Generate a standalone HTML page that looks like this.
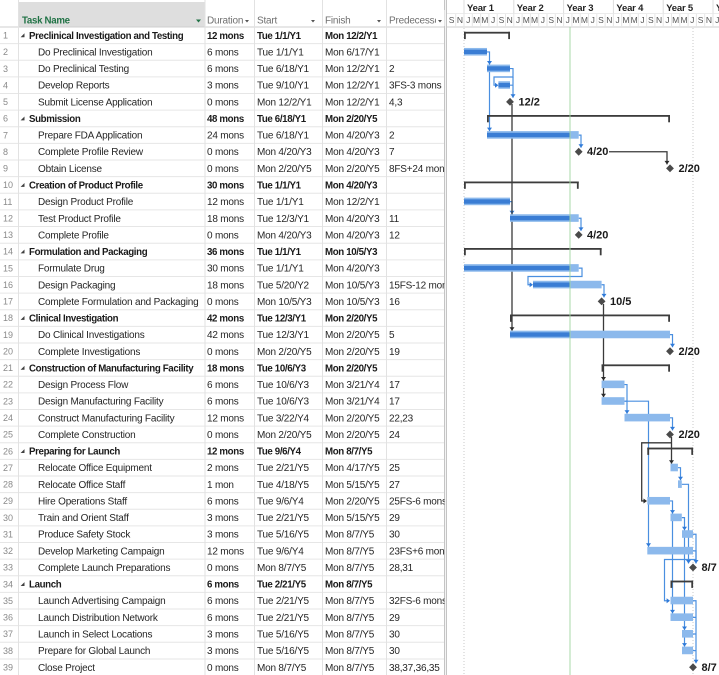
<!DOCTYPE html>
<html><head><meta charset="utf-8"><style>
html,body{margin:0;padding:0;background:#fff;}
svg{display:block;}
.n{font:9px "Liberation Sans",sans-serif;fill:#8a8a8a;}
.t{font:10px "Liberation Sans",sans-serif;fill:#262626;letter-spacing:-0.2px;}
.b{font:bold 9.7px "Liberation Sans",sans-serif;fill:#1a1a1a;letter-spacing:-0.35px;}
.h{font:10px "Liberation Sans",sans-serif;fill:#707070;letter-spacing:-0.2px;}
.hg{font:bold 9.7px "Liberation Sans",sans-serif;fill:#217346;letter-spacing:-0.3px;}
.yr{font:bold 9.5px "Liberation Sans",sans-serif;fill:#222;letter-spacing:-0.2px;}
.mo{font:8.5px "Liberation Sans",sans-serif;fill:#555;text-anchor:middle;}
.ml{font:bold 11px "Liberation Sans",sans-serif;fill:#1a1a1a;}
</style></head><body>
<svg width="719" height="675" viewBox="0 0 719 675" xmlns="http://www.w3.org/2000/svg">
<defs>
<clipPath id="ctask"><rect x="18" y="0" width="186.5" height="675"/></clipPath>
<clipPath id="cpred"><rect x="386" y="0" width="58.5" height="675"/></clipPath>
<clipPath id="cgantt"><rect x="447" y="0" width="272" height="675"/></clipPath>
</defs>
<rect x="0" y="0" width="719" height="675" fill="#fff"/>
<!-- table header -->
<rect x="18" y="2" width="187" height="25" fill="#dedede"/>
<path d="M0,27H445" stroke="#cfcfcf" stroke-width="1"/>
<!-- row lines -->
<path d="M0,43.63H445M0,60.26H445M0,76.89H445M0,93.52H445M0,110.15H445M0,126.78H445M0,143.41H445M0,160.04H445M0,176.67H445M0,193.3H445M0,209.93H445M0,226.56H445M0,243.19H445M0,259.82H445M0,276.45H445M0,293.08H445M0,309.71H445M0,326.34H445M0,342.97H445M0,359.6H445M0,376.23H445M0,392.86H445M0,409.49H445M0,426.12H445M0,442.75H445M0,459.38H445M0,476.01H445M0,492.64H445M0,509.27H445M0,525.9H445M0,542.53H445M0,559.16H445M0,575.79H445M0,592.42H445M0,609.05H445M0,625.68H445M0,642.31H445M0,658.94H445" stroke="#e6e6e6" stroke-width="1"/>
<!-- column lines -->
<path d="M18.5,0V675M205,0V675M254.5,0V675M322.5,0V675M386.5,0V675" stroke="#e2e2e2" stroke-width="1"/>
<rect x="444" y="0" width="3" height="675" fill="#f4f4f4"/>
<path d="M444.5,0V675M446.5,0V675" stroke="#c4c4c4" stroke-width="1"/>

<!-- header text -->
<text class="hg" x="22" y="23.3">Task Name</text>
<polygon points="196,19.5 201,19.5 198.5,22.5" fill="#217346"/>
<text class="h" x="207" y="23.3">Duration</text>
<polygon points="245,20 249,20 247,22.5" fill="#555"/>
<text class="h" x="257" y="23.3">Start</text>
<polygon points="311,20 315,20 313,22.5" fill="#555"/>
<text class="h" x="325" y="23.3">Finish</text>
<polygon points="377,20 381,20 379,22.5" fill="#555"/>
<g clip-path="url(#cpred)"><text class="h" x="389" y="23.3">Predecessors</text><rect x="436" y="10" width="10" height="16" fill="#fff"/></g>
<polygon points="438,20 442,20 440,22.5" fill="#555"/>

<!-- row numbers -->
<g class="n">
<text x="3" y="38.5">1</text><text x="3" y="55.1">2</text><text x="3" y="71.8">3</text><text x="3" y="88.4">4</text><text x="3" y="105">5</text><text x="3" y="121.6">6</text><text x="3" y="138.3">7</text><text x="3" y="154.9">8</text><text x="3" y="171.5">9</text><text x="3" y="188.2">10</text><text x="3" y="204.8">11</text><text x="3" y="221.4">12</text><text x="3" y="238.1">13</text><text x="3" y="254.7">14</text><text x="3" y="271.3">15</text><text x="3" y="288">16</text><text x="3" y="304.6">17</text><text x="3" y="321.2">18</text><text x="3" y="337.9">19</text><text x="3" y="354.5">20</text><text x="3" y="371.1">21</text><text x="3" y="387.7">22</text><text x="3" y="404.4">23</text><text x="3" y="421">24</text><text x="3" y="437.6">25</text><text x="3" y="454.3">26</text><text x="3" y="470.9">27</text><text x="3" y="487.5">28</text><text x="3" y="504.2">29</text><text x="3" y="520.8">30</text><text x="3" y="537.4">31</text><text x="3" y="554">32</text><text x="3" y="570.7">33</text><text x="3" y="587.3">34</text><text x="3" y="603.9">35</text><text x="3" y="620.6">36</text><text x="3" y="637.2">37</text><text x="3" y="653.8">38</text><text x="3" y="670.5">39</text>
</g>

<!-- summary triangles -->
<g fill="#404040">
<polygon points="24.5,33.3 24.5,37.2 20.6,37.2"/>
<polygon points="24.5,116.5 24.5,120.4 20.6,120.4"/>
<polygon points="24.5,183 24.5,186.9 20.6,186.9"/>
<polygon points="24.5,249.5 24.5,253.4 20.6,253.4"/>
<polygon points="24.5,316 24.5,319.9 20.6,319.9"/>
<polygon points="24.5,365.9 24.5,369.8 20.6,369.8"/>
<polygon points="24.5,449.1 24.5,453 20.6,453"/>
<polygon points="24.5,582.1 24.5,586 20.6,586"/>
</g>

<!-- task names -->
<g clip-path="url(#ctask)">
<text class="b" x="29" y="38.82">Preclinical Investigation and Testing</text>
<text class="t" x="38" y="55.45">Do Preclinical Investigation</text>
<text class="t" x="38" y="72.08">Do Preclinical Testing</text>
<text class="t" x="38" y="88.71">Develop Reports</text>
<text class="t" x="38" y="105.34">Submit License Application</text>
<text class="b" x="29" y="121.97">Submission</text>
<text class="t" x="38" y="138.6">Prepare FDA Application</text>
<text class="t" x="38" y="155.23">Complete Profile Review</text>
<text class="t" x="38" y="171.86">Obtain License</text>
<text class="b" x="29" y="188.49">Creation of Product Profile</text>
<text class="t" x="38" y="205.12">Design Product Profile</text>
<text class="t" x="38" y="221.75">Test Product Profile</text>
<text class="t" x="38" y="238.38">Complete Profile</text>
<text class="b" x="29" y="255.01">Formulation and Packaging</text>
<text class="t" x="38" y="271.64">Formulate Drug</text>
<text class="t" x="38" y="288.27">Design Packaging</text>
<text class="t" x="38" y="304.9">Complete Formulation and Packaging</text>
<text class="b" x="29" y="321.53">Clinical Investigation</text>
<text class="t" x="38" y="338.16">Do Clinical Investigations</text>
<text class="t" x="38" y="354.79">Complete Investigations</text>
<text class="b" x="29" y="371.42">Construction of Manufacturing Facility</text>
<text class="t" x="38" y="388.05">Design Process Flow</text>
<text class="t" x="38" y="404.68">Design Manufacturing Facility</text>
<text class="t" x="38" y="421.31">Construct Manufacturing Facility</text>
<text class="t" x="38" y="437.94">Complete Construction</text>
<text class="b" x="29" y="454.57">Preparing for Launch</text>
<text class="t" x="38" y="471.2">Relocate Office Equipment</text>
<text class="t" x="38" y="487.83">Relocate Office Staff</text>
<text class="t" x="38" y="504.46">Hire Operations Staff</text>
<text class="t" x="38" y="521.09">Train and Orient Staff</text>
<text class="t" x="38" y="537.72">Produce Safety Stock</text>
<text class="t" x="38" y="554.35">Develop Marketing Campaign</text>
<text class="t" x="38" y="570.98">Complete Launch Preparations</text>
<text class="b" x="29" y="587.61">Launch</text>
<text class="t" x="38" y="604.24">Launch Advertising Campaign</text>
<text class="t" x="38" y="620.87">Launch Distribution Network</text>
<text class="t" x="38" y="637.5">Launch in Select Locations</text>
<text class="t" x="38" y="654.13">Prepare for Global Launch</text>
<text class="t" x="38" y="670.76">Close Project</text>
</g>

<!-- duration -->
<g>
<text class="b" x="207" y="38.82">12 mons</text>
<text class="t" x="207" y="55.45">6 mons</text>
<text class="t" x="207" y="72.08">6 mons</text>
<text class="t" x="207" y="88.71">3 mons</text>
<text class="t" x="207" y="105.34">0 mons</text>
<text class="b" x="207" y="121.97">48 mons</text>
<text class="t" x="207" y="138.6">24 mons</text>
<text class="t" x="207" y="155.23">0 mons</text>
<text class="t" x="207" y="171.86">0 mons</text>
<text class="b" x="207" y="188.49">30 mons</text>
<text class="t" x="207" y="205.12">12 mons</text>
<text class="t" x="207" y="221.75">18 mons</text>
<text class="t" x="207" y="238.38">0 mons</text>
<text class="b" x="207" y="255.01">36 mons</text>
<text class="t" x="207" y="271.64">30 mons</text>
<text class="t" x="207" y="288.27">18 mons</text>
<text class="t" x="207" y="304.9">0 mons</text>
<text class="b" x="207" y="321.53">42 mons</text>
<text class="t" x="207" y="338.16">42 mons</text>
<text class="t" x="207" y="354.79">0 mons</text>
<text class="b" x="207" y="371.42">18 mons</text>
<text class="t" x="207" y="388.05">6 mons</text>
<text class="t" x="207" y="404.68">6 mons</text>
<text class="t" x="207" y="421.31">12 mons</text>
<text class="t" x="207" y="437.94">0 mons</text>
<text class="b" x="207" y="454.57">12 mons</text>
<text class="t" x="207" y="471.2">2 mons</text>
<text class="t" x="207" y="487.83">1 mon</text>
<text class="t" x="207" y="504.46">6 mons</text>
<text class="t" x="207" y="521.09">3 mons</text>
<text class="t" x="207" y="537.72">3 mons</text>
<text class="t" x="207" y="554.35">12 mons</text>
<text class="t" x="207" y="570.98">0 mons</text>
<text class="b" x="207" y="587.61">6 mons</text>
<text class="t" x="207" y="604.24">6 mons</text>
<text class="t" x="207" y="620.87">6 mons</text>
<text class="t" x="207" y="637.5">3 mons</text>
<text class="t" x="207" y="654.13">3 mons</text>
<text class="t" x="207" y="670.76">0 mons</text>
</g>

<!-- start -->
<g>
<text class="b" x="257" y="38.82">Tue 1/1/Y1</text>
<text class="t" x="257" y="55.45">Tue 1/1/Y1</text>
<text class="t" x="257" y="72.08">Tue 6/18/Y1</text>
<text class="t" x="257" y="88.71">Tue 9/10/Y1</text>
<text class="t" x="257" y="105.34">Mon 12/2/Y1</text>
<text class="b" x="257" y="121.97">Tue 6/18/Y1</text>
<text class="t" x="257" y="138.6">Tue 6/18/Y1</text>
<text class="t" x="257" y="155.23">Mon 4/20/Y3</text>
<text class="t" x="257" y="171.86">Mon 2/20/Y5</text>
<text class="b" x="257" y="188.49">Tue 1/1/Y1</text>
<text class="t" x="257" y="205.12">Tue 1/1/Y1</text>
<text class="t" x="257" y="221.75">Tue 12/3/Y1</text>
<text class="t" x="257" y="238.38">Mon 4/20/Y3</text>
<text class="b" x="257" y="255.01">Tue 1/1/Y1</text>
<text class="t" x="257" y="271.64">Tue 1/1/Y1</text>
<text class="t" x="257" y="288.27">Tue 5/20/Y2</text>
<text class="t" x="257" y="304.9">Mon 10/5/Y3</text>
<text class="b" x="257" y="321.53">Tue 12/3/Y1</text>
<text class="t" x="257" y="338.16">Tue 12/3/Y1</text>
<text class="t" x="257" y="354.79">Mon 2/20/Y5</text>
<text class="b" x="257" y="371.42">Tue 10/6/Y3</text>
<text class="t" x="257" y="388.05">Tue 10/6/Y3</text>
<text class="t" x="257" y="404.68">Tue 10/6/Y3</text>
<text class="t" x="257" y="421.31">Tue 3/22/Y4</text>
<text class="t" x="257" y="437.94">Mon 2/20/Y5</text>
<text class="b" x="257" y="454.57">Tue 9/6/Y4</text>
<text class="t" x="257" y="471.2">Tue 2/21/Y5</text>
<text class="t" x="257" y="487.83">Tue 4/18/Y5</text>
<text class="t" x="257" y="504.46">Tue 9/6/Y4</text>
<text class="t" x="257" y="521.09">Tue 2/21/Y5</text>
<text class="t" x="257" y="537.72">Tue 5/16/Y5</text>
<text class="t" x="257" y="554.35">Tue 9/6/Y4</text>
<text class="t" x="257" y="570.98">Mon 8/7/Y5</text>
<text class="b" x="257" y="587.61">Tue 2/21/Y5</text>
<text class="t" x="257" y="604.24">Tue 2/21/Y5</text>
<text class="t" x="257" y="620.87">Tue 2/21/Y5</text>
<text class="t" x="257" y="637.5">Tue 5/16/Y5</text>
<text class="t" x="257" y="654.13">Tue 5/16/Y5</text>
<text class="t" x="257" y="670.76">Mon 8/7/Y5</text>
</g>

<!-- finish -->
<g>
<text class="b" x="325" y="38.82">Mon 12/2/Y1</text>
<text class="t" x="325" y="55.45">Mon 6/17/Y1</text>
<text class="t" x="325" y="72.08">Mon 12/2/Y1</text>
<text class="t" x="325" y="88.71">Mon 12/2/Y1</text>
<text class="t" x="325" y="105.34">Mon 12/2/Y1</text>
<text class="b" x="325" y="121.97">Mon 2/20/Y5</text>
<text class="t" x="325" y="138.6">Mon 4/20/Y3</text>
<text class="t" x="325" y="155.23">Mon 4/20/Y3</text>
<text class="t" x="325" y="171.86">Mon 2/20/Y5</text>
<text class="b" x="325" y="188.49">Mon 4/20/Y3</text>
<text class="t" x="325" y="205.12">Mon 12/2/Y1</text>
<text class="t" x="325" y="221.75">Mon 4/20/Y3</text>
<text class="t" x="325" y="238.38">Mon 4/20/Y3</text>
<text class="b" x="325" y="255.01">Mon 10/5/Y3</text>
<text class="t" x="325" y="271.64">Mon 4/20/Y3</text>
<text class="t" x="325" y="288.27">Mon 10/5/Y3</text>
<text class="t" x="325" y="304.9">Mon 10/5/Y3</text>
<text class="b" x="325" y="321.53">Mon 2/20/Y5</text>
<text class="t" x="325" y="338.16">Mon 2/20/Y5</text>
<text class="t" x="325" y="354.79">Mon 2/20/Y5</text>
<text class="b" x="325" y="371.42">Mon 2/20/Y5</text>
<text class="t" x="325" y="388.05">Mon 3/21/Y4</text>
<text class="t" x="325" y="404.68">Mon 3/21/Y4</text>
<text class="t" x="325" y="421.31">Mon 2/20/Y5</text>
<text class="t" x="325" y="437.94">Mon 2/20/Y5</text>
<text class="b" x="325" y="454.57">Mon 8/7/Y5</text>
<text class="t" x="325" y="471.2">Mon 4/17/Y5</text>
<text class="t" x="325" y="487.83">Mon 5/15/Y5</text>
<text class="t" x="325" y="504.46">Mon 2/20/Y5</text>
<text class="t" x="325" y="521.09">Mon 5/15/Y5</text>
<text class="t" x="325" y="537.72">Mon 8/7/Y5</text>
<text class="t" x="325" y="554.35">Mon 8/7/Y5</text>
<text class="t" x="325" y="570.98">Mon 8/7/Y5</text>
<text class="b" x="325" y="587.61">Mon 8/7/Y5</text>
<text class="t" x="325" y="604.24">Mon 8/7/Y5</text>
<text class="t" x="325" y="620.87">Mon 8/7/Y5</text>
<text class="t" x="325" y="637.5">Mon 8/7/Y5</text>
<text class="t" x="325" y="654.13">Mon 8/7/Y5</text>
<text class="t" x="325" y="670.76">Mon 8/7/Y5</text>
</g>

<!-- predecessors -->
<g clip-path="url(#cpred)">
<text class="t" x="389" y="72.08">2</text>
<text class="t" x="389" y="88.71">3FS-3 mons</text>
<text class="t" x="389" y="105.34">4,3</text>
<text class="t" x="389" y="138.6">2</text>
<text class="t" x="389" y="155.23">7</text>
<text class="t" x="389" y="171.86">8FS+24 mons</text>
<text class="t" x="389" y="221.75">11</text>
<text class="t" x="389" y="238.38">12</text>
<text class="t" x="389" y="288.27">15FS-12 mons</text>
<text class="t" x="389" y="304.9">16</text>
<text class="t" x="389" y="338.16">5</text>
<text class="t" x="389" y="354.79">19</text>
<text class="t" x="389" y="388.05">17</text>
<text class="t" x="389" y="404.68">17</text>
<text class="t" x="389" y="421.31">22,23</text>
<text class="t" x="389" y="437.94">24</text>
<text class="t" x="389" y="471.2">25</text>
<text class="t" x="389" y="487.83">27</text>
<text class="t" x="389" y="504.46">25FS-6 mons</text>
<text class="t" x="389" y="521.09">29</text>
<text class="t" x="389" y="537.72">30</text>
<text class="t" x="389" y="554.35">23FS+6 mons</text>
<text class="t" x="389" y="570.98">28,31</text>
<text class="t" x="389" y="604.24">32FS-6 mons</text>
<text class="t" x="389" y="620.87">29</text>
<text class="t" x="389" y="637.5">30</text>
<text class="t" x="389" y="654.13">30</text>
<text class="t" x="389" y="670.76">38,37,36,35</text>
</g>

<!-- GANTT -->
<g clip-path="url(#cgantt)">
<!-- header -->
<path d="M447,27H719" stroke="#cfcfcf" stroke-width="1"/>
<path d="M447,13.5H719" stroke="#ececec" stroke-width="1"/>
<path d="M464,0V13.5M513.8,0V13.5M563.6,0V13.5M613.4,0V13.5M663.2,0V13.5M713,0V13.5" stroke="#dcdcdc" stroke-width="1"/>
<path d="M455.7,14V27M464,14V27M472.3,14V27M480.6,14V27M488.9,14V27M497.2,14V27M505.5,14V27M513.8,14V27M522.1,14V27M530.4,14V27M538.7,14V27M547,14V27M555.3,14V27M563.6,14V27M571.9,14V27M580.2,14V27M588.5,14V27M596.8,14V27M605.1,14V27M613.4,14V27M621.7,14V27M630,14V27M638.3,14V27M646.6,14V27M654.9,14V27M663.2,14V27M671.5,14V27M679.8,14V27M688.1,14V27M696.4,14V27M704.7,14V27M713,14V27" stroke="#e6e6e6" stroke-width="1"/>
<text class="yr" x="467" y="11">Year 1</text>
<text class="yr" x="516.8" y="11">Year 2</text>
<text class="yr" x="566.6" y="11">Year 3</text>
<text class="yr" x="616.4" y="11">Year 4</text>
<text class="yr" x="666.2" y="11">Year 5</text>
<text class="yr" x="716" y="11">Year 6</text>
<g class="mo">
<text x="451.6" y="22.8">S</text><text x="459.9" y="22.8">N</text>
<text x="468.2" y="22.8">J</text><text x="476.5" y="22.8">M</text><text x="484.8" y="22.8">M</text><text x="493.1" y="22.8">J</text><text x="501.4" y="22.8">S</text><text x="509.7" y="22.8">N</text>
<text x="518" y="22.8">J</text><text x="526.3" y="22.8">M</text><text x="534.6" y="22.8">M</text><text x="542.9" y="22.8">J</text><text x="551.2" y="22.8">S</text><text x="559.5" y="22.8">N</text>
<text x="567.8" y="22.8">J</text><text x="576.1" y="22.8">M</text><text x="584.4" y="22.8">M</text><text x="592.7" y="22.8">J</text><text x="601" y="22.8">S</text><text x="609.3" y="22.8">N</text>
<text x="617.6" y="22.8">J</text><text x="625.9" y="22.8">M</text><text x="634.2" y="22.8">M</text><text x="642.5" y="22.8">J</text><text x="650.8" y="22.8">S</text><text x="659.1" y="22.8">N</text>
<text x="667.4" y="22.8">J</text><text x="675.7" y="22.8">M</text><text x="684" y="22.8">M</text><text x="692.3" y="22.8">J</text><text x="700.6" y="22.8">S</text><text x="708.9" y="22.8">N</text>
<text x="717.2" y="22.8">J</text>
</g>

<!-- project start / finish dotted lines -->
<path d="M464,28V675M693,28V675" stroke="#c8c8c8" stroke-width="1" stroke-dasharray="1,2"/>

<!-- blue links -->
<g fill="none" stroke="#4a8fe0" stroke-width="1.2">
<path d="M487,51.95H489.5V131.1"/>
<path d="M510,68.58H513V77H494V85.21H497"/>
<path d="M513,77V97.8M510,85.21H513"/>
<path d="M578.7,135.1H581V147.7"/>
<path d="M510,201.62H512V214.25"/>
<path d="M578.7,218.25H581V230.9"/>
<path d="M578.7,268.14H582V276.5H528V284.77H531"/>
<path d="M601.6,284.77H604V297.4"/>
<path d="M670,334.66H672.5V347.3"/>
<path d="M624.5,384.55H627V413.8M624.5,401.18H627"/>
<path d="M624.5,401.18H648.5V546.85"/>
<path d="M670,417.81H672.5V430.4"/>
<path d="M677.9,467.7H680.5V480.3"/>
<path d="M681.8,484.33H688.5V563.5"/>
<path d="M670,500.96H672.5V613.4"/>
<path d="M681.8,517.59H684.5V646.6"/>
<path d="M693,534.22H696V563.5"/>
<path d="M693,550.85H696V559.5H664.5V600.74H668"/>
<path d="M693,600.74H696V663.3M693,617.37H696M693,634H696M693,650.63H696"/>
</g>
<g fill="#2f7ad8">
<polygon points="487,61 492,61 489.5,64.6"/>
<polygon points="487,127.6 492,127.6 489.5,131.1"/>
<polygon points="495,82.7 495,87.7 498.4,85.21"/>
<polygon points="510.5,94.3 515.5,94.3 513,97.8"/>
<polygon points="578.5,144.2 583.5,144.2 581,147.7"/>
<polygon points="509.5,210.7 514.5,210.7 512,214.25"/>
<polygon points="578.5,227.4 583.5,227.4 581,230.9"/>
<polygon points="529.6,282.3 529.6,287.3 533,284.77"/>
<polygon points="601.5,293.9 606.5,293.9 604,297.4"/>
<polygon points="670,343.8 675,343.8 672.5,347.3"/>
<polygon points="624.5,410.3 629.5,410.3 627,413.8"/>
<polygon points="646,543.3 651,543.3 648.5,546.85"/>
<polygon points="670,426.9 675,426.9 672.5,430.4"/>
<polygon points="678,476.8 683,476.8 680.5,480.3"/>
<polygon points="686,560 691,560 688.5,563.5"/>
<polygon points="670,510.1 675,510.1 672.5,513.6"/>
<polygon points="670,609.9 675,609.9 672.5,613.4"/>
<polygon points="682,526.7 687,526.7 684.5,530.2"/>
<polygon points="682,626.5 687,626.5 684.5,630"/>
<polygon points="682,643.1 687,643.1 684.5,646.6"/>
<polygon points="693.5,560 698.5,560 696,563.5"/>
<polygon points="666.6,598.2 666.6,603.2 670,600.74"/>
<polygon points="693.5,659.8 698.5,659.8 696,663.3"/>
</g>

<!-- black links -->
<g fill="none" stroke="#3a3a3a" stroke-width="1.3">
<path d="M512,104V330.7"/>
<path d="M609,151.73H667V164.4"/>
<path d="M603.5,304V397.2"/>
<path d="M671.5,437V463.7"/>
<path d="M671.5,442.8H641.7V500.96H644"/>
</g>
<g fill="#2a2a2a">
<polygon points="509.5,327.2 514.5,327.2 512,330.7"/>
<polygon points="664.5,160.9 669.5,160.9 667,164.4"/>
<polygon points="601,377 606,377 603.5,380.55"/>
<polygon points="601,393.7 606,393.7 603.5,397.2"/>
<polygon points="669,460.2 674,460.2 671.5,463.7"/>
<polygon points="643.5,498.5 643.5,503.5 647,500.96"/>
</g>

<!-- summary brackets -->
<g fill="#3c3c3c">
<rect x="464" y="31.8" width="46" height="1.8"/><rect x="464" y="31.8" width="1.8" height="7.3"/><rect x="508.2" y="31.8" width="1.8" height="7.3"/>
<rect x="487" y="115" width="183" height="1.8"/><rect x="487" y="115" width="1.8" height="7.3"/><rect x="668.2" y="115" width="1.8" height="7.3"/>
<rect x="464" y="181.5" width="114.7" height="1.8"/><rect x="464" y="181.5" width="1.8" height="7.3"/><rect x="576.9" y="181.5" width="1.8" height="7.3"/>
<rect x="464" y="248" width="137.6" height="1.8"/><rect x="464" y="248" width="1.8" height="7.3"/><rect x="599.8" y="248" width="1.8" height="7.3"/>
<rect x="510" y="314.5" width="160" height="1.8"/><rect x="510" y="314.5" width="1.8" height="7.3"/><rect x="668.2" y="314.5" width="1.8" height="7.3"/>
<rect x="601.6" y="364.4" width="68.4" height="1.8"/><rect x="601.6" y="364.4" width="1.8" height="7.3"/><rect x="668.2" y="364.4" width="1.8" height="7.3"/>
<rect x="647.3" y="447.6" width="45.8" height="1.8"/><rect x="647.3" y="447.6" width="1.8" height="7.3"/><rect x="691.3" y="447.6" width="1.8" height="7.3"/>
<rect x="670.5" y="580.6" width="22.6" height="1.8"/><rect x="670.5" y="580.6" width="1.8" height="7.3"/><rect x="691.3" y="580.6" width="1.8" height="7.3"/>
</g>

<!-- task bars light -->
<g fill="#8cb9ec">
<rect x="464" y="47.95" width="23" height="7.6"/>
<rect x="487" y="64.58" width="23" height="7.6"/>
<rect x="498.4" y="81.21" width="11.6" height="7.6"/>
<rect x="487" y="131.1" width="91.7" height="7.6"/>
<rect x="464" y="197.62" width="46" height="7.6"/>
<rect x="510" y="214.25" width="68.7" height="7.6"/>
<rect x="464" y="264.14" width="114.7" height="7.6"/>
<rect x="533" y="280.77" width="68.6" height="7.6"/>
<rect x="510" y="330.66" width="160" height="7.6"/>
<rect x="601.6" y="380.55" width="22.9" height="7.6"/>
<rect x="601.6" y="397.18" width="22.9" height="7.6"/>
<rect x="624.5" y="413.81" width="45.5" height="7.6"/>
<rect x="670.5" y="463.7" width="7.4" height="7.6"/>
<rect x="678" y="480.33" width="3.8" height="7.6"/>
<rect x="647.3" y="496.96" width="22.7" height="7.6"/>
<rect x="670.5" y="513.59" width="11.3" height="7.6"/>
<rect x="682" y="530.22" width="11" height="7.6"/>
<rect x="647.3" y="546.85" width="45.7" height="7.6"/>
<rect x="670.5" y="596.74" width="22.5" height="7.6"/>
<rect x="670.5" y="613.37" width="22.5" height="7.6"/>
<rect x="682" y="630" width="11" height="7.6"/>
<rect x="682" y="646.63" width="11" height="7.6"/>
</g>
<!-- dark progress stripes -->
<g fill="#3a7dd4">
<rect x="464" y="49.65" width="23" height="4.4"/>
<rect x="487" y="66.28" width="23" height="4.4"/>
<rect x="498.4" y="82.91" width="11.6" height="4.4"/>
<rect x="487" y="132.8" width="83" height="4.4"/>
<rect x="464" y="199.32" width="46" height="4.4"/>
<rect x="510" y="215.95" width="60" height="4.4"/>
<rect x="464" y="265.84" width="106" height="4.4"/>
<rect x="533" y="282.47" width="37" height="4.4"/>
<rect x="510" y="332.36" width="60" height="4.4"/>
</g>

<!-- status line -->
<path d="M570,27V675" stroke="#9fd49f" stroke-width="1" opacity="0.9"/>

<!-- milestones -->
<g fill="#4a4a4a">
<polygon points="510,97.9 513.9,101.84 510,105.8 506.1,101.84"/>
<polygon points="578.7,147.8 582.6,151.73 578.7,155.7 574.8,151.73"/>
<polygon points="670,164.4 673.9,168.36 670,172.3 666.1,168.36"/>
<polygon points="578.7,230.9 582.6,234.88 578.7,238.8 574.8,234.88"/>
<polygon points="601.6,297.4 605.5,301.4 601.6,305.3 597.7,301.4"/>
<polygon points="670,347.3 673.9,351.29 670,355.2 666.1,351.29"/>
<polygon points="670,430.5 673.9,434.44 670,438.4 666.1,434.44"/>
<polygon points="693,563.5 696.9,567.48 693,571.4 689.1,567.48"/>
<polygon points="693,663.3 696.9,667.26 693,671.2 689.1,667.26"/>
</g>
<g class="ml">
<text x="518.5" y="105.3">12/2</text>
<text x="587" y="155.2">4/20</text>
<text x="678.5" y="171.9">2/20</text>
<text x="587" y="238.4">4/20</text>
<text x="610" y="304.9">10/5</text>
<text x="678.5" y="354.8">2/20</text>
<text x="678.5" y="437.9">2/20</text>
<text x="701.5" y="571">8/7</text>
<text x="701.5" y="670.8">8/7</text>
</g>
</g>
</svg>
</body></html>
